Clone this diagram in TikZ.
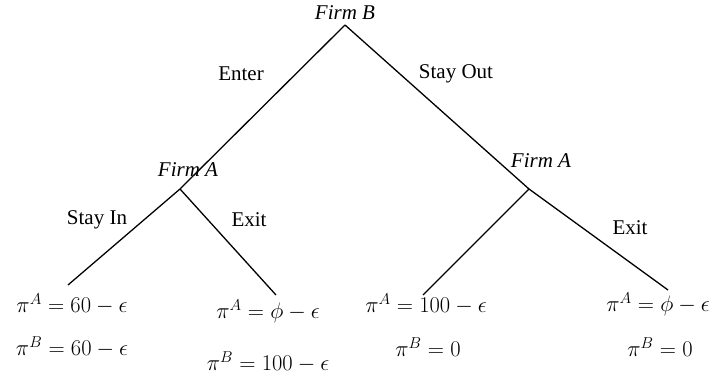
\documentclass[tikz,border=0pt]{standalone}
\usepackage{fix-cm}
\usepackage{amsmath}
\usepackage{fontspec}
\setmainfont{Liberation Serif}
\begin{document}
\begin{tikzpicture}[x=1pt,y=-1pt,
  lbl/.style={inner sep=0pt, font=\fontsize{21}{25}\selectfont},
  firm/.style={inner sep=0pt, font=\fontsize{21}{25}\selectfont\itshape},
  pay/.style={inner sep=0pt, font=\fontsize{22.5}{27}\selectfont},
  edge/.style={line width=1.3pt}]
\useasboundingbox (0,0) rectangle (713,374);
% decision vertices and leaf ends
\coordinate (root) at (345,25);
\coordinate (a1) at (180,189);
\coordinate (a2) at (529,189);
\coordinate (l1) at (68,285);
\coordinate (l2) at (276,295);
\coordinate (l3) at (423,295);
\coordinate (l4) at (668,290);
\draw[edge] (root) -- (a1);
\draw[edge] (root) -- (a2);
\draw[edge] (a1) -- (l1);
\draw[edge] (a1) -- (l2);
\draw[edge] (a2) -- (l3);
\draw[edge] (a2) -- (l4);
% player labels
\node[firm] (fb) at (345,13) {Firm B};
\node[firm] (fa1) at (188,170) {Firm A};
\node[firm] (fa2) at (541,161) {Firm A};
% action labels
\node[lbl] (enter) at (241,74) {Enter};
\node[lbl] (stayout) at (456,74) {Stay Out};
\node[lbl] (stayin) at (97,220) {Stay In};
\node[lbl] (exit1) at (249,220) {Exit};
\node[lbl] (exit2) at (630,228) {Exit};
% payoffs
\node[pay] (p1a) at (72,304) {$\pi^A = 60 - \epsilon$};
\node[pay] (p1b) at (72,347) {$\pi^B = 60 - \epsilon$};
\node[pay] (p2a) at (268,311) {$\pi^A = \phi - \epsilon$};
\node[pay] (p2b) at (268,362) {$\pi^B = 100 - \epsilon$};
\node[pay] (p3a) at (426,304) {$\pi^A = 100 - \epsilon$};
\node[pay] (p3b) at (428,347) {$\pi^B = 0$};
\node[pay] (p4a) at (658,304) {$\pi^A = \phi - \epsilon$};
\node[pay] (p4b) at (660,347) {$\pi^B = 0$};
\end{tikzpicture}
\end{document}
